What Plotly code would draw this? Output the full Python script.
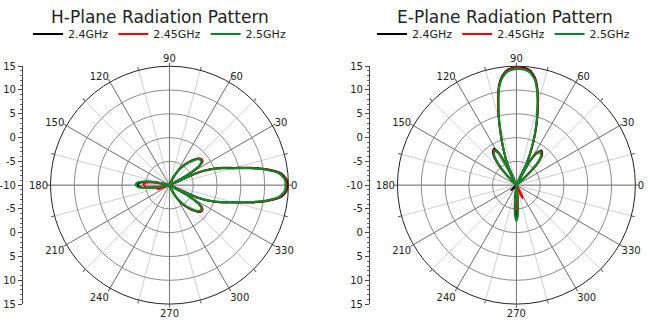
import plotly.graph_objects as go

# ---------------- data ----------------
series_names = ["2.4GHz", "2.45GHz", "2.5GHz"]
series_colors = ["#000000", "#ff0000", "#008a2e"]

# H-plane angles (deg)
theta_h = [0, 3, 6, 9, 12, 15, 18, 21, 24, 27, 29, 32, 35, 38, 42, 46, 50, 54, 58, 62, 65, 68,
           90, 120, 150, 160, 165, 170, 173, 176, 180, 184, 187, 190, 195, 200, 205, 220, 260,
           292, 295, 298, 302, 306, 310, 314, 318, 322, 325, 328, 331, 333, 336, 339, 342,
           345, 348, 351, 354, 357, 360]
h_24 = [14.8, 14.6, 13.6, 11.0, 7.5, 4.0, 1.8, -0.5, -3.5, -10, -6.0, -3.0, -1.6, -1.3, -1.6, -2.5,
        -3.6, -4.8, -6.0, -7.5, -8.8, -10,
        -10, -10, -10, -10, -9.0, -6.0, -4.5, -3.6, -3.4, -3.9, -5.5, -8.0, -10, -10, -10, -10, -10,
        -10, -8.8, -7.5, -6.0, -4.8, -3.6, -2.5, -1.6, -1.3, -1.6, -3.0, -6.0, -10, -3.5,
        -0.5, 1.8, 4.0, 7.5, 11.0, 13.6, 14.6, 14.8]
h_245 = [14.6, 14.4, 13.4, 10.8, 7.3, 3.8, 1.6, -0.7, -3.7, -10, -6.2, -3.1, -1.7, -1.4, -1.7, -2.6,
         -3.7, -4.9, -6.1, -7.6, -8.9, -10,
         -10, -10, -10, -10, -9.5, -7.0, -5.5, -4.6, -4.6, -5.0, -6.5, -8.0, -7.2, -7.8, -10, -10, -10,
         -10, -8.9, -7.6, -6.1, -4.9, -3.7, -2.6, -1.7, -1.4, -1.7, -3.1, -6.2, -10, -3.7,
         -0.7, 1.6, 3.8, 7.3, 10.8, 13.4, 14.4, 14.6]
h_25 = [14.4, 14.2, 13.2, 10.6, 7.1, 3.6, 1.4, -0.9, -3.9, -10, -6.4, -3.3, -1.9, -1.6, -1.9, -2.8,
        -3.9, -5.1, -6.3, -7.8, -9.1, -10,
        -10, -10, -10, -10, -8.5, -5.5, -4.0, -3.1, -2.9, -3.4, -5.0, -7.5, -10, -10, -10, -10, -10,
        -10, -9.1, -7.8, -6.3, -5.1, -3.9, -2.8, -1.9, -1.6, -1.9, -3.3, -6.4, -10, -3.9,
        -0.9, 1.4, 3.6, 7.1, 10.6, 13.2, 14.2, 14.4]

# E-plane angles (deg)
theta_e = [0, 30, 40, 43, 46, 50, 54, 58, 61, 63, 65, 67.5, 70, 72.5, 75, 77.5, 80, 83, 86, 90, 94,
           96, 98, 100, 102, 104.5, 107, 110, 113, 115, 117, 119, 122, 126, 130, 134, 137, 140,
           180, 215, 220, 225, 230, 240, 262, 265, 267.5, 270, 272.5, 275, 278, 288, 292, 295,
           298, 302, 310, 360]
e_24 = [-10, -10, -10, -7.0, -3.5, -1.6, -1.0, -2.0, -4.5, -10, -4.5, -1.5, 1.5, 4.5, 7.5, 10.5, 12.8,
        14.2, 14.7, 14.8, 14.4, 13.8, 12.8, 11.2, 8.5, 5.0, 1.5, -2.0, -5.0, -10, -4.5, -2.0, -1.0,
        -1.6, -3.5, -7.0, -10, -10, -10, -10, -9.5, -8.5, -9.5, -10, -10, -7.0, -4.5, -3.2, -4.5,
        -7.0, -10, -10, -10, -10, -10, -10, -10, -10]
e_245 = [-10, -10, -10, -7.2, -3.7, -1.8, -1.2, -2.2, -4.7, -10, -4.7, -1.7, 1.3, 4.3, 7.3, 10.3, 12.6,
         14.0, 14.5, 14.6, 14.2, 13.6, 12.6, 11.0, 8.3, 4.8, 1.3, -2.2, -5.2, -10, -4.7, -2.2, -1.2,
         -1.8, -3.7, -7.2, -10, -10, -10, -10, -10, -10, -10, -10, -10, -8.0, -5.5, -4.5, -5.5,
         -8.0, -10, -10, -8.5, -7.0, -7.5, -9.0, -10, -10]
e_25 = [-10, -10, -10, -7.4, -3.9, -2.0, -1.4, -2.4, -4.9, -10, -4.9, -1.9, 1.1, 4.1, 7.1, 10.1, 12.4,
        13.8, 14.3, 14.4, 14.0, 13.4, 12.4, 10.8, 8.1, 4.6, 1.1, -2.4, -5.4, -10, -4.9, -2.4, -1.4,
        -2.0, -3.9, -7.4, -10, -10, -10, -10, -10, -10, -10, -10, -10, -6.0, -3.5, -2.5, -3.5,
        -6.0, -10, -10, -10, -10, -10, -10, -10, -10]

titles = ["H-Plane Radiation Pattern", "E-Plane Radiation Pattern"]
r_range = [-10, 15]
r_rings = [-5, 0, 5, 10]
scale_vals = [-25, -20, -15, -10, -5, 0, 5, 10, 15, 20, 25]
scale_text = ["15", "10", "5", "0", "-5", "-10", "-5", "0", "5", "10", "15"]
ang_major = [0, 30, 60, 90, 120, 150, 180, 210, 240, 270, 300, 330]
ang_minor = list(range(0, 360, 15))

# ---------------- layout geometry ----------------
W, H = 650, 326
FONT = "DejaVu Sans"
TXT = "#222222"
centers_x = [168, 516]
cy = 186
rad = 123.5
axis_x = [21, 369]
title_x = [158, 505]
leg_x = [158, 503]

fig = go.Figure()
base_names = ["polar", "polar3"]
top_names = ["polar2", "polar4"]

planes = [(theta_h, [h_24, h_245, h_25]), (theta_e, [e_24, e_245, e_25])]
for p, (th, rs) in enumerate(planes):
    # empty trace so the background polar grid gets drawn
    fig.add_trace(go.Scatterpolar(r=[], theta=[], subplot=base_names[p], showlegend=False,
                                  mode="lines", hoverinfo="skip"))
    leg = "legend" if p == 0 else "legend2"
    for name, col, r in zip(series_names, series_colors, rs):
        fig.add_trace(go.Scatterpolar(
            r=r, theta=th, mode="lines", name=name, subplot=top_names[p], legend=leg,
            line=dict(color=col, width=2, shape="spline", smoothing=0.5)))

layout = dict(width=W, height=H, margin=dict(l=0, r=0, t=0, b=0),
              paper_bgcolor="white", plot_bgcolor="white",
              font=dict(family=FONT, size=10, color=TXT), showlegend=True)

dom_y = [(H - cy - rad) / H, (H - cy + rad) / H]
for p in range(2):
    cx = centers_x[p]
    dom_x = [(cx - rad) / W, (cx + rad) / W]
    layout[base_names[p]] = dict(
        domain=dict(x=dom_x, y=dom_y), bgcolor="white",
        radialaxis=dict(range=r_range, tickvals=r_rings, showticklabels=False,
                        showline=False, ticks="", gridcolor="#8c8c8c", gridwidth=1),
        angularaxis=dict(tickvals=ang_minor, showticklabels=False, ticks="outside", ticklen=3,
                         tickcolor="#555555", gridcolor="#d0d0d0", gridwidth=1,
                         showline=False, rotation=0, direction="counterclockwise"))
    layout[top_names[p]] = dict(
        domain=dict(x=dom_x, y=dom_y), bgcolor="rgba(0,0,0,0)",
        radialaxis=dict(range=r_range, showgrid=False, showticklabels=False,
                        showline=False, ticks=""),
        angularaxis=dict(tickvals=ang_major, ticktext=[str(a) for a in ang_major],
                         ticks="", gridcolor="#7a7a7a", gridwidth=1, showline=True,
                         linecolor="#222222", linewidth=1, rotation=0,
                         direction="counterclockwise",
                         tickfont=dict(family=FONT, size=10, color=TXT)))

    xa = "xaxis" if p == 0 else "xaxis2"
    ya = "yaxis" if p == 0 else "yaxis2"
    layout[xa] = dict(visible=False, domain=[axis_x[p] / W, axis_x[p] / W + 0.01], range=[0, 1])
    layout[ya] = dict(domain=dom_y, range=[-25, 25], anchor="x" if p == 0 else "x2",
                      side="left", showline=True, linecolor="#444444", linewidth=1,
                      tickvals=scale_vals, ticktext=scale_text, ticks="outside", ticklen=4,
                      tickcolor="#444444", showgrid=False, zeroline=False,
                      tickfont=dict(family=FONT, size=10, color=TXT),
                      minor=dict(dtick=1, ticks="outside", ticklen=2, tickcolor="#666666",
                                 showgrid=False))
    fig.add_trace(go.Scatter(x=[], y=[], xaxis="x" if p == 0 else "x2",
                             yaxis="y" if p == 0 else "y2", showlegend=False))

for p in range(2):
    layout["legend" if p == 0 else "legend2"] = dict(
        orientation="h", x=leg_x[p] / W, y=1 - 29 / H, xanchor="center", yanchor="middle",
        font=dict(family=FONT, size=11, color=TXT), bgcolor="rgba(0,0,0,0)",
        itemwidth=30, tracegroupgap=0)

fig.update_layout(**layout)

for p in range(2):
    fig.add_annotation(text=titles[p], x=title_x[p] / W, y=1 - 11 / H, xref="paper", yref="paper",
                       showarrow=False, xanchor="center", yanchor="middle",
                       font=dict(family=FONT, size=17, color=TXT))

fig.write_html("out.html")
